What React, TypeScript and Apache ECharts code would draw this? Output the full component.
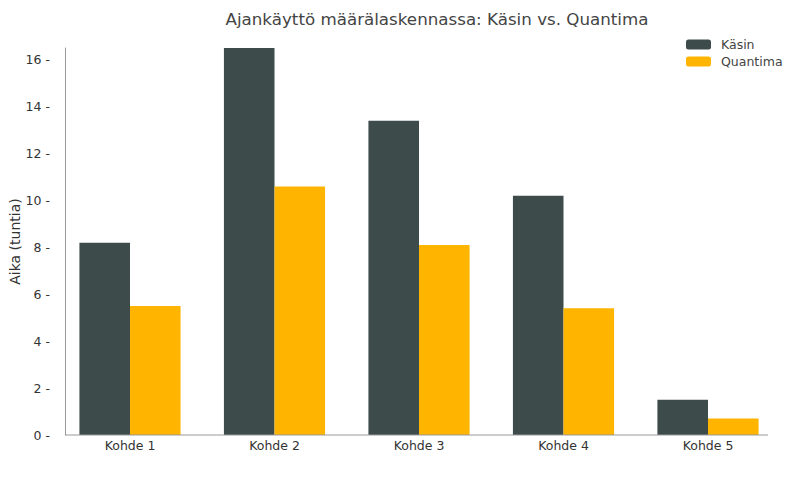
import React, { useEffect, useRef } from "react";
import * as echarts from "echarts";

const categories = ["Kohde 1", "Kohde 2", "Kohde 3", "Kohde 4", "Kohde 5"];
const kasin = [8.2, 16.6, 13.4, 10.2, 1.5];
const quantima = [5.5, 10.6, 8.1, 5.4, 0.7];
const yTicks = [0, 2, 4, 6, 8, 10, 12, 14, 16];

export default function App() {
  const ref = useRef<HTMLDivElement>(null);
  useEffect(() => {
    document.body.style.margin = "0";
    const chart = echarts.init(ref.current!, null, { renderer: "svg" });
    const font = "DejaVu Sans";
    chart.setOption({
      animation: false,
      textStyle: { fontFamily: font },
      title: {
        text: "Ajankäyttö määrälaskennassa: Käsin vs. Quantima",
        left: 432,
        textAlign: "center",
        top: 5,
        textStyle: { fontFamily: font, fontSize: 16.7, fontWeight: "normal", color: "#444" },
      },
      legend: {
        orient: "vertical",
        left: 681,
        top: 33,
        itemWidth: 25,
        itemHeight: 10,
        itemGap: 4,
        textStyle: { fontFamily: font, fontSize: 12.5, color: "#444", padding: [0, 0, 0, 5] },
        data: ["Käsin", "Quantima"],
      },
      grid: {
        left: 57.75,
        right: 19.75,
        top: 48,
        bottom: 42,
        containLabel: false,
        outerBoundsMode: "none",
      },
      xAxis: {
        type: "category",
        data: categories,
        axisLine: { show: false },
        axisTick: { show: false },
        axisLabel: { fontFamily: font, fontSize: 12.5, color: "#333", margin: 4 },
      },
      yAxis: {
        type: "value",
        min: 0,
        max: 16.5,
        interval: 2,
        offset: -7.25,
        splitLine: { show: false },
        axisLine: { show: true, lineStyle: { color: "#999", width: 1 } },
        axisTick: { show: false },
        axisLabel: {
          fontFamily: font,
          fontSize: 12.5,
          color: "#333",
          margin: 15,
          customValues: yTicks,
          formatter: (v: number) => `${v} -`,
        },
        name: "Aika (tuntia)",
        nameLocation: "middle",
        nameGap: 43,
        nameMoveOverlap: false,
        nameTextStyle: { fontFamily: font, fontSize: 14, color: "#333" },
      },
      series: [
        {
          name: "Käsin",
          type: "bar",
          data: kasin,
          barWidth: "35%",
          barGap: "0%",
          itemStyle: { color: "#3d4b4a" },
        },
        {
          name: "Quantima",
          type: "bar",
          data: quantima,
          barWidth: "35%",
          barGap: "0%",
          itemStyle: { color: "#ffb400" },
        },
      ],
      graphic: [
        {
          type: "line",
          shape: { x1: 65, y1: 435, x2: 768, y2: 435 },
          style: { stroke: "#999", lineWidth: 1 },
          z: 10,
        },
      ],
    });
    return () => chart.dispose();
  }, []);
  return <div ref={ref} style={{ width: 800, height: 477 }} />;
}
